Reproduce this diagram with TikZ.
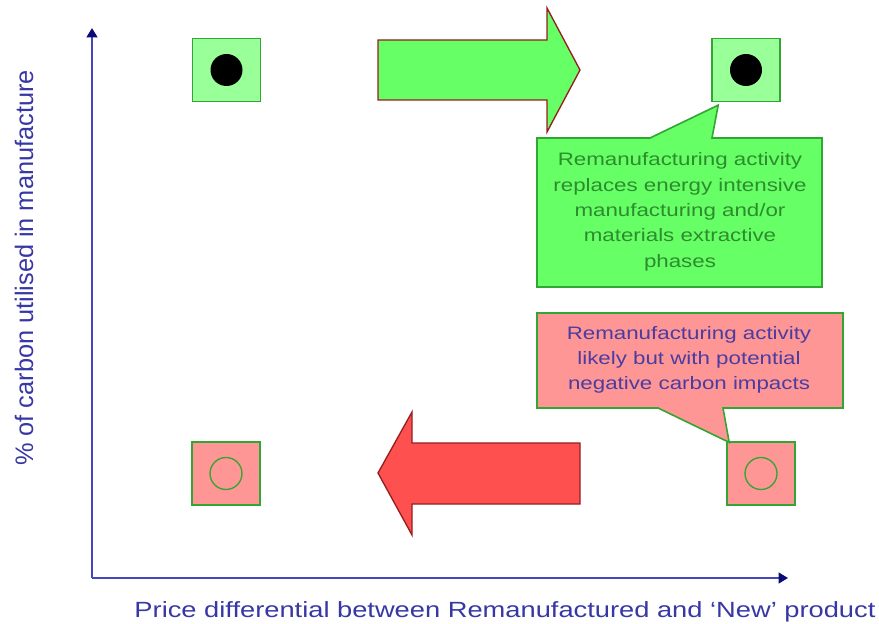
\documentclass[tikz,border=0pt]{standalone}
\usepackage{fontspec}
\setmainfont{Liberation Sans}
\newfontfamily\widefont[FakeStretch=1.24]{Liberation Sans}
\usetikzlibrary{arrows.meta}
\definecolor{axisblue}{RGB}{70,70,190}
\definecolor{navy}{RGB}{10,10,120}
\definecolor{labblue}{RGB}{55,55,165}
\definecolor{lgreen}{RGB}{153,255,153}
\definecolor{mgreen}{RGB}{102,255,102}
\definecolor{bgreen}{RGB}{50,165,50}
\definecolor{tgreen}{RGB}{45,140,45}
\definecolor{pinkfill}{RGB}{255,150,150}
\definecolor{redfill}{RGB}{255,80,80}
\definecolor{darkred}{RGB}{150,30,30}
\definecolor{tpurple}{RGB}{75,60,160}
\tikzset{
  boxnode/.style={draw=bgreen, line width=1.2pt, minimum width=51pt, minimum height=47pt, inner sep=0pt},
  bigarrow/.style={draw=darkred, line width=1pt, line join=miter},
  callout/.style={draw=bgreen, line width=1.2pt, line join=miter},
  callouttext/.style={font=\widefont\fontsize{13.5pt}{19pt}\selectfont, align=center, inner sep=0pt},
  axis/.style={draw=axisblue, -{Triangle[length=7pt,width=8pt,fill=navy,color=navy]}},
}
\begin{document}
\begin{tikzpicture}[x=0.75pt,y=-0.75pt]
\useasboundingbox (0,0) rectangle (879,624);
% axes
\coordinate (origin) at (92,578);
\coordinate (ytop) at (92,28);
\coordinate (xend) at (788,578);
\draw[axis, line width=2.2pt] (origin) -- (ytop);
\draw[axis, line width=1.5pt] (origin) -- (xend);
\node[font=\widefont\fontsize{16.5pt}{20pt}\selectfont, text=labblue, anchor=base] (xlab) at (505,617) {Price differential between Remanufactured and ‘New’ product};
\node[font=\fontsize{19pt}{22pt}\selectfont, text=labblue, rotate=90, anchor=base] (ylab) at (33,268) {\% of carbon utilised in manufacture};
% arrows
\draw[bigarrow, fill=mgreen] (378,40) -- (547,40) -- (547,8) -- (580,70) -- (547,132) -- (547,100) -- (378,100) -- cycle;
\draw[bigarrow, fill=redfill] (580,443) -- (412,443) -- (412,412) -- (378,473) -- (412,535) -- (412,504) -- (580,504) -- cycle;
% boxes
\node[boxnode, fill=lgreen] (tl) at (226.5,70) {};
\node[boxnode, fill=lgreen] (tr) at (746,70) {};
\node[boxnode, fill=pinkfill] (bl) at (226,473.5) {};
\node[boxnode, fill=pinkfill] (br) at (761,473.5) {};
\fill[black] (tl.center) circle[radius=12pt];
\fill[black] (tr.center) circle[radius=12pt];
\draw[bgreen, line width=1pt] (bl.center) circle[radius=12pt];
\draw[bgreen, line width=1pt] (br.center) circle[radius=12pt];
% callout tips
\coordinate (gtip) at ([shift={(7,3)}]tr.south west);
\coordinate (ptip) at ([shift={(3,1)}]br.north west);
% green callout
\draw[callout, fill=mgreen] (537,138) -- (650,138) -- (gtip) -- (712,138) -- (822,138) -- (822,287) -- (537,287) -- cycle;
\node[callouttext, text=tgreen] (gtext) at (680,212) {Remanufacturing activity\\replaces energy intensive\\manufacturing and/or\\materials extractive\\phases};
% pink callout
\draw[callout, fill=pinkfill] (537,313) -- (843,313) -- (843,408) -- (723,408) -- (ptip) -- (658,408) -- (537,408) -- cycle;
\node[callouttext, text=tpurple] (ptext) at (689,360) {Remanufacturing activity\\likely but with potential\\negative carbon impacts};
\end{tikzpicture}
\end{document}
